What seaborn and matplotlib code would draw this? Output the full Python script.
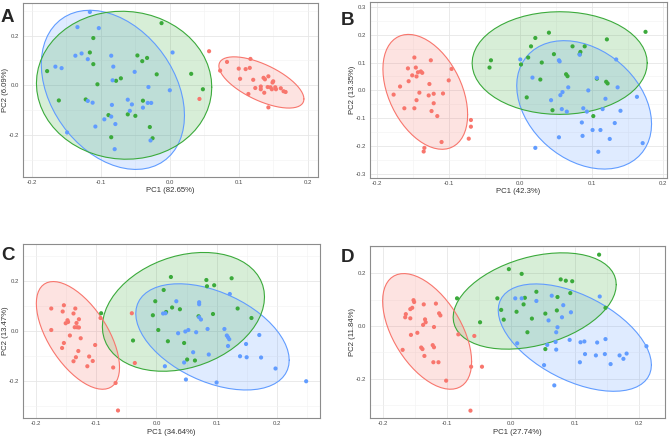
import numpy as np
import pandas as pd
import seaborn as sns
import matplotlib.pyplot as plt
from matplotlib.ticker import MultipleLocator, FormatStrFormatter

# PCA scores, (PC1, PC2) per sample, per group and panel
a_red = [(0.057, 0.137), (0.043, -0.055), (0.083, 0.094), (0.073, 0.059), (0.100, 0.067),
         (0.102, 0.026), (0.110, 0.065), (0.116, 0.070), (0.117, 0.106), (0.121, 0.022),
         (0.124, -0.011), (0.114, -0.035), (0.132, -0.005), (0.136, 0.030), (0.138, 0.024),
         (0.143, 0.036), (0.132, -0.016), (0.137, -0.030), (0.142, -0.007), (0.146, -0.008),
         (0.149, 0.011), (0.150, 0.016), (0.148, -0.016), (0.153, -0.008), (0.154, -0.016),
         (0.161, -0.012), (0.165, -0.024), (0.168, -0.027), (0.143, -0.089)]
a_green = [(-0.012, 0.250), (-0.111, 0.190), (-0.116, 0.132), (-0.111, 0.085), (-0.178, 0.057),
           (-0.161, -0.061), (-0.105, 0.004), (-0.122, -0.057), (-0.071, 0.028), (-0.078, 0.018),
           (-0.047, 0.120), (-0.040, 0.097), (-0.033, 0.110), (-0.019, 0.044), (0.031, 0.046),
           (0.048, -0.016), (-0.039, -0.062), (-0.061, -0.117), (-0.050, -0.123), (-0.089, -0.120),
           (-0.085, -0.209), (-0.029, -0.168), (-0.025, -0.213)]
a_blue = [(-0.116, 0.295), (-0.134, 0.234), (-0.103, 0.230), (-0.137, 0.119), (-0.128, 0.128),
          (-0.119, 0.105), (-0.166, 0.075), (-0.157, 0.069), (-0.085, 0.119), (-0.082, 0.075),
          (-0.083, 0.020), (-0.051, 0.054), (0.004, 0.132), (0.000, -0.020), (-0.031, -0.007),
          (-0.061, -0.058), (-0.055, -0.077), (-0.119, -0.063), (-0.112, -0.070), (-0.084, -0.079),
          (-0.039, -0.090), (-0.032, -0.071), (-0.027, -0.071), (-0.058, -0.103), (-0.085, -0.126),
          (-0.095, -0.137), (-0.079, -0.156), (-0.108, -0.166), (-0.149, -0.190), (-0.080, -0.257),
          (-0.028, -0.222)]

b_red = [(-0.148, 0.118), (-0.157, 0.079), (-0.146, 0.082), (-0.151, 0.054), (-0.145, 0.050),
         (-0.143, 0.065), (-0.139, 0.068), (-0.137, 0.063), (-0.156, 0.033), (-0.168, 0.014),
         (-0.177, -0.015), (-0.162, -0.064), (-0.148, -0.064), (-0.145, -0.035), (-0.141, -0.008),
         (-0.125, 0.108), (-0.127, 0.023), (-0.128, -0.018), (-0.121, -0.012), (-0.121, -0.046),
         (-0.124, -0.074), (-0.116, -0.092), (-0.108, -0.011), (-0.100, 0.036), (-0.096, 0.077),
         (-0.069, -0.106), (-0.069, -0.130), (-0.072, -0.173), (-0.110, -0.185), (-0.134, -0.206),
         (-0.135, -0.219)]
b_green = [(-0.041, 0.108), (-0.043, 0.082), (0.021, 0.188), (0.040, 0.207), (0.015, 0.158),
           (0.011, 0.118), (0.030, 0.100), (0.047, 0.130), (0.001, 0.093), (0.028, 0.039),
           (0.009, -0.025), (0.045, -0.071), (0.064, 0.058), (0.066, 0.051), (0.073, 0.158),
           (0.084, 0.138), (0.090, 0.158), (0.121, 0.183), (0.175, 0.210), (0.107, 0.042),
           (0.120, 0.031), (0.122, 0.025), (0.102, -0.092), (0.083, 0.130)]
b_blue = [(0.000, 0.111), (0.054, 0.108), (0.055, 0.104), (0.017, 0.046), (0.083, 0.128),
          (0.134, 0.111), (0.107, 0.045), (0.067, 0.011), (0.059, -0.006), (0.056, -0.017),
          (0.043, -0.035), (0.095, 0.000), (0.136, 0.011), (0.119, -0.030), (0.163, -0.023),
          (0.058, -0.067), (0.065, -0.076), (0.088, -0.064), (0.093, -0.076), (0.115, -0.067),
          (0.140, -0.073), (0.086, -0.115), (0.101, -0.142), (0.112, -0.142), (0.087, -0.163),
          (0.054, -0.168), (0.125, -0.174), (0.132, -0.117), (0.021, -0.206), (0.109, -0.220),
          (0.171, -0.189)]

c_red = [(-0.175, 0.091), (-0.154, 0.104), (-0.156, 0.079), (-0.151, 0.032), (-0.148, 0.044),
         (-0.147, 0.037), (-0.135, 0.091), (-0.138, 0.071), (-0.129, 0.048), (-0.133, 0.033),
         (-0.136, 0.016), (-0.132, 0.016), (-0.129, 0.015), (-0.175, 0.005), (-0.144, -0.017),
         (-0.126, -0.028), (-0.154, -0.047), (-0.157, -0.067), (-0.130, -0.079), (-0.134, -0.104),
         (-0.138, -0.120), (-0.112, -0.101), (-0.106, -0.119), (-0.102, -0.055), (-0.115, -0.140),
         (-0.072, -0.145), (-0.068, -0.207), (-0.064, -0.317), (-0.093, 0.053), (-0.041, 0.072),
         (-0.036, -0.127)]
c_green = [(-0.092, 0.072), (-0.002, 0.120), (-0.006, 0.064), (0.012, 0.165), (0.016, 0.077),
           (0.026, 0.095), (0.024, 0.217), (-0.039, -0.037), (0.003, 0.005), (0.019, -0.040),
           (0.039, 0.088), (0.046, -0.047), (0.051, -0.113), (0.064, -0.117), (0.070, 0.060),
           (0.083, 0.205), (0.084, 0.180), (0.096, 0.184), (0.094, 0.069), (0.125, 0.212),
           (0.135, 0.091), (0.158, 0.053)]
c_blue = [(0.011, 0.071), (0.015, 0.072), (0.033, 0.120), (0.036, -0.008), (0.048, -0.001),
          (0.053, 0.005), (0.066, -0.004), (0.071, 0.056), (0.074, 0.047), (0.071, 0.116),
          (0.071, 0.108), (0.085, 0.009), (0.087, -0.093), (0.061, -0.084), (0.046, -0.125),
          (0.014, -0.140), (0.049, -0.193), (0.100, -0.205), (0.113, 0.009), (0.117, -0.017),
          (0.119, -0.024), (0.121, -0.032), (0.119, -0.059), (0.122, 0.149), (0.139, -0.100),
          (0.150, -0.104), (0.149, -0.051), (0.171, -0.015), (0.174, -0.105), (0.198, -0.149),
          (0.249, -0.200)]

d_red = [(-0.152, 0.098), (-0.151, 0.091), (-0.154, 0.069), (-0.157, 0.064), (-0.164, 0.045),
         (-0.165, 0.033), (-0.157, 0.029), (-0.136, 0.082), (-0.117, 0.085), (-0.112, 0.048),
         (-0.110, 0.040), (-0.134, 0.025), (-0.133, 0.014), (-0.137, 0.004), (-0.120, -0.004),
         (-0.146, -0.026), (-0.156, -0.034), (-0.140, -0.082), (-0.138, -0.088), (-0.135, -0.114),
         (-0.122, -0.073), (-0.120, -0.081), (-0.121, -0.138), (-0.113, -0.138), (-0.169, -0.091),
         (-0.101, -0.208), (-0.082, -0.032), (-0.057, -0.038), (-0.062, -0.155), (-0.045, -0.155),
         (-0.063, -0.322)]
d_green = [(-0.084, 0.105), (-0.048, 0.014), (-0.021, 0.105), (-0.003, 0.216), (0.017, 0.198),
           (-0.015, 0.061), (-0.011, 0.024), (0.009, 0.054), (0.020, 0.082), (0.022, 0.107),
           (0.033, 0.028), (0.026, -0.024), (0.040, 0.130), (0.054, 0.047), (0.054, -0.088),
           (0.073, 0.110), (0.072, 0.059), (0.078, 0.177), (0.086, 0.172), (0.096, 0.170),
           (0.093, 0.125), (0.138, 0.271), (0.148, 0.069)]
d_blue = [(0.007, 0.105), (0.017, 0.105), (0.040, 0.095), (0.064, 0.115), (0.082, 0.079),
          (0.080, 0.033), (0.059, 0.021), (0.073, -0.005), (0.071, -0.024), (0.094, 0.052),
          (0.010, -0.066), (0.057, -0.072), (0.071, -0.090), (0.070, -0.061), (0.092, -0.053),
          (0.109, -0.062), (0.115, -0.059), (0.116, -0.107), (0.108, -0.138), (0.135, -0.063),
          (0.133, -0.112), (0.147, -0.107), (0.148, -0.050), (0.139, 0.112), (0.156, -0.145),
          (0.170, -0.112), (0.176, -0.125), (0.181, -0.105), (0.212, -0.077), (0.052, -0.149),
          (0.068, -0.226)]

panel_letters = ["A", "B", "C", "D"]
pc1_labels = ["PC1 (82.65%)", "PC1 (42.3%)", "PC1 (34.64%)", "PC1 (27.74%)"]
pc2_labels = ["PC2 (6.09%)", "PC2 (13.35%)", "PC2 (13.47%)", "PC2 (11.84%)"]
groups = ["G1", "G2", "G3"]
palette = {"G1": "#F8766D", "G2": "#3BAA3B", "G3": "#619CFF"}

panels = [(a_red, a_green, a_blue), (b_red, b_green, b_blue),
          (c_red, c_green, c_blue), (d_red, d_green, d_blue)]


def t_ellipse(x, y, level=0.95, nu=5, segments=61):
    # like ggplot2 stat_ellipse(type="t"), which fits MASS::cov.trob
    X = np.column_stack([x, y])
    n, p = X.shape
    loc = X.mean(axis=0)
    w = np.ones(n)
    for _ in range(25):
        w0 = w
        Xc = X - loc
        _, d, vt = np.linalg.svd(np.sqrt(w / w.sum())[:, None] * Xc, full_matrices=False)
        Q = ((Xc @ vt.T / d) ** 2).sum(axis=1)
        w = (nu + p) / (nu + Q)
        loc = (w[:, None] * X).sum(axis=0) / w.sum()
        if np.all(np.abs(w - w0) < 0.01):
            break
    sw = np.sqrt(w)[:, None] * Xc
    cov = sw.T @ sw / n
    dfd = n - 1
    fq = dfd / 2 * ((1 - level) ** (-2 / dfd) - 1)  # F(2, dfd) quantile
    radius = np.sqrt(2 * fq)
    t = np.linspace(0, 2 * np.pi, segments)
    unit = np.column_stack([np.cos(t), np.sin(t)])
    pts = loc + radius * unit @ np.linalg.cholesky(cov).T
    return pts[:, 0], pts[:, 1]


sns.set_style("whitegrid")
plt.rcParams["font.family"] = ["Liberation Sans", "DejaVu Sans"]
plt.rcParams["axes.unicode_minus"] = False

W, H = 669, 438
fig = plt.figure(figsize=(W / 100, H / 100), dpi=100)

# axes boxes in pixels: left, right, top, bottom
boxes = [(23, 318, 3, 177), (370, 667, 2, 178), (23, 320, 244, 418), (370, 665, 246, 418)]
limits = [((-0.213, 0.215), (-0.369, 0.331)), ((-0.210, 0.205), (-0.314, 0.317)),
          ((-0.222, 0.272), (-0.347, 0.349)), ((-0.220, 0.241), (-0.350, 0.304))]
y_steps = [0.2, 0.1, 0.2, 0.2]
letter_pos = [(1, 9), (341, 12), (1, 247), (341, 249)]

for i, pts in enumerate(panels):
    l, r, t, b = boxes[i]
    ax = fig.add_axes([l / W, 1 - b / H, (r - l) / W, (b - t) / H])
    rows = []
    for g, grp in zip(groups, pts):
        for px, py in grp:
            rows.append({"PC1": px, "PC2": py, "group": g})
    df = pd.DataFrame(rows)

    for g in [groups[2], groups[1], groups[0]]:
        sub = df[df["group"] == g]
        ex, ey = t_ellipse(sub["PC1"].values, sub["PC2"].values)
        ax.fill(ex, ey, color=palette[g], alpha=0.2, lw=0, zorder=2)
        ax.plot(ex, ey, color=palette[g], lw=0.8, zorder=3)

    sns.scatterplot(data=df, x="PC1", y="PC2", hue="group", palette=palette,
                    s=9, linewidth=0, legend=False, ax=ax, zorder=4)

    ax.set_xlim(*limits[i][0])
    ax.set_ylim(*limits[i][1])
    ax.xaxis.set_major_locator(MultipleLocator(0.1))
    ax.xaxis.set_minor_locator(MultipleLocator(0.05))
    ax.yaxis.set_major_locator(MultipleLocator(y_steps[i]))
    ax.yaxis.set_minor_locator(MultipleLocator(y_steps[i] / 2))
    ax.xaxis.set_major_formatter(FormatStrFormatter("%.1f"))
    ax.yaxis.set_major_formatter(FormatStrFormatter("%.1f"))
    ax.grid(which="major", color="#e6e6e6", lw=0.6)
    ax.grid(which="minor", color="#f2f2f2", lw=0.4)
    ax.set_axisbelow(True)
    ax.tick_params(which="major", length=1.5, width=0.5, color="#555555", labelsize=4.3,
                   labelcolor="#4d4d4d", pad=1)
    ax.tick_params(which="minor", length=0)
    for sp in ax.spines.values():
        sp.set_edgecolor("#8c8c8c")
        sp.set_linewidth(0.8)
    ax.set_xlabel(pc1_labels[i], fontsize=5.6, color="#333333")
    ax.set_ylabel(pc2_labels[i], fontsize=5.6, color="#333333")
    ax.xaxis.set_label_coords(0.5, -14 / (b - t))
    ax.yaxis.set_label_coords(-17 / (r - l), 0.5)
    ax.xaxis.label.set_va("center")
    ax.yaxis.label.set_va("center")

    lx, ly = letter_pos[i]
    fig.text(lx / W, 1 - ly / H, panel_letters[i], fontsize=13.5, fontweight="bold",
             va="top", ha="left", family="Liberation Sans")

fig.savefig("out.png", dpi=100)
